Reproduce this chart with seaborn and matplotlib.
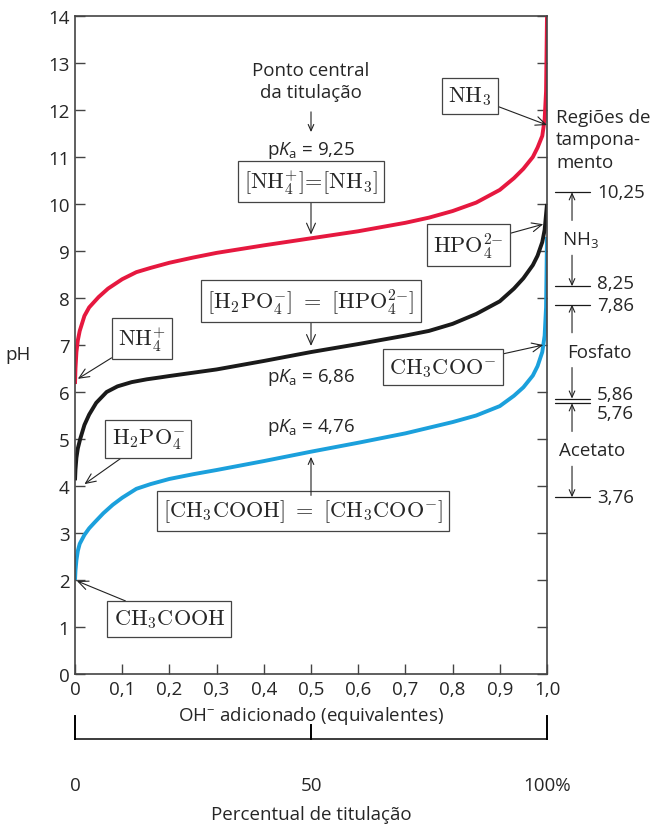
import numpy as np
import pandas as pd
import matplotlib
matplotlib.use("Agg")
import matplotlib.pyplot as plt
import seaborn as sns

# curve values (x = OH- equivalents, y = pH)
nh4_x = [0, 0.001, 0.003, 0.006, 0.01, 0.02, 0.03, 0.05, 0.07, 0.1, 0.13, 0.16, 0.2, 0.25, 0.3,
         0.4, 0.5, 0.6, 0.7, 0.75, 0.8, 0.85, 0.9, 0.93, 0.95, 0.97, 0.98, 0.99, 0.995, 0.998, 1.0]
nh4_ph = [6.17, 6.5, 6.85, 7.1, 7.3, 7.62, 7.8, 8.02, 8.2, 8.4, 8.55, 8.64, 8.75, 8.86, 8.96,
          9.12, 9.27, 9.42, 9.6, 9.71, 9.85, 10.03, 10.3, 10.55, 10.75, 11.0, 11.2, 11.45, 11.8, 12.4, 14.0]

h2po4_x = [0, 0.001, 0.003, 0.006, 0.011, 0.02, 0.03, 0.045, 0.067, 0.09, 0.12, 0.152, 0.18, 0.2, 0.25,
           0.3, 0.4, 0.5, 0.6, 0.7, 0.75, 0.8, 0.85, 0.9, 0.93, 0.95, 0.97, 0.98, 0.99, 0.995, 1.0]
h2po4_ph = [4.12, 4.35, 4.6, 4.8, 5.0, 5.3, 5.52, 5.77, 6.0, 6.12, 6.21, 6.27, 6.31, 6.34, 6.41,
            6.48, 6.66, 6.85, 7.02, 7.2, 7.3, 7.45, 7.66, 7.93, 8.2, 8.42, 8.7, 8.9, 9.19, 9.45, 10.0]

acet_x = [0, 0.001, 0.003, 0.006, 0.01, 0.02, 0.03, 0.042, 0.06, 0.08, 0.1, 0.13, 0.16, 0.2, 0.25, 0.3,
          0.4, 0.5, 0.6, 0.7, 0.75, 0.8, 0.85, 0.9, 0.93, 0.95, 0.97, 0.98, 0.99, 0.995, 0.998, 1.0]
acet_ph = [2.0, 2.2, 2.42, 2.62, 2.77, 2.96, 3.1, 3.23, 3.42, 3.6, 3.75, 3.94, 4.04, 4.15, 4.25, 4.34,
           4.53, 4.73, 4.92, 5.12, 5.24, 5.36, 5.5, 5.7, 5.92, 6.1, 6.35, 6.55, 6.85, 7.2, 7.8, 9.3]

# buffer regions on the right
buffer_names = ["NH$_3$", "Fosfato", "Acetato"]
buffer_pka = [9.25, 6.86, 4.76]
buffer_top = [10.25, 7.86, 5.76]
buffer_bottom = [8.25, 5.86, 3.76]

x_ticks = [0, 0.1, 0.2, 0.3, 0.4, 0.5, 0.6, 0.7, 0.8, 0.9, 1.0]
x_tick_labels = ["0", "0,1", "0,2", "0,3", "0,4", "0,5", "0,6", "0,7", "0,8", "0,9", "1,0"]
pct_ticks = [0, 50, 100]
pct_labels = ["0", "50", "100%"]

RED = "#e6183f"
BLACK = "#1a1a1a"
BLUE = "#1ba0dc"
EDGE = "#444444"
FS = 13.5

sns.set_style("ticks")
plt.rcParams["font.family"] = ["Open Sans", "DejaVu Sans"]
plt.rcParams["mathtext.fontset"] = "custom"
plt.rcParams["mathtext.rm"] = "Open Sans"
plt.rcParams["mathtext.it"] = "Open Sans:italic"

fig = plt.figure(figsize=(6.5, 8.28), dpi=100)
ax = fig.add_axes([75 / 650, 1 - 675 / 828, 472 / 650, 658 / 828])

for xs, ys, c in [(acet_x, acet_ph, BLUE), (h2po4_x, h2po4_ph, BLACK), (nh4_x, nh4_ph, RED)]:
    sns.lineplot(x=xs, y=ys, ax=ax, color=c, lw=2.8, sort=False, estimator=None,
                 solid_capstyle="butt")

ax.set_xlim(0, 1)
ax.set_ylim(0, 14)
ax.set_xticks(x_ticks, x_tick_labels)
ax.set_yticks(range(0, 15))
ax.tick_params(direction="in", length=7, width=1, color=EDGE, right=True, top=False,
               labelsize=FS, pad=4)
for s in ax.spines.values():
    s.set_color(EDGE)
    s.set_linewidth(1.2)
ax.set_xlabel("OH$^{-}$ adicionado (equivalentes)", fontsize=FS, labelpad=5)
fig.text(18 / 650, 1 - 355 / 828, "pH", ha="center", va="center", fontsize=FS)

# boxed labels (serif, like the original)
box = dict(boxstyle="square,pad=0.28", fc="white", ec=EDGE, lw=0.9)
arr = dict(arrowstyle="->,head_length=0.45,head_width=0.2", lw=0.8, color="#222222",
           shrinkA=0, shrinkB=0)
cm = dict(fontsize=16, math_fontfamily="cm", ha="center", va="center", bbox=box)

def label(txt, tip, pos):
    ax.annotate(txt, xy=tip, xytext=pos, arrowprops=arr, annotation_clip=False, **cm)

label(r"$\mathrm{NH_3}$", (1.0, 11.68), (0.837, 12.3))
label(r"$\mathrm{HPO_4^{2{-}}}$", (0.992, 9.57), (0.833, 9.13))
label(r"$\mathrm{CH_3COO^{-}}$", (0.992, 7.0), (0.78, 6.53))
label(r"$\mathrm{NH_4^{+}}$", (0.006, 6.28), (0.142, 7.13))
label(r"$\mathrm{H_2PO_4^{-}}$", (0.02, 4.04), (0.155, 5.0))
label(r"$\mathrm{CH_3COOH}$", (0.004, 1.98), (0.2, 1.17))
label(r"$\mathrm{[NH_4^{+}]\!=\![NH_3]}$", (0.5, 9.35), (0.5, 10.47))
label(r"$\mathrm{[H_2PO_4^{-}]\ =\ [HPO_4^{2{-}}]}$", (0.5, 6.98), (0.5, 7.94))

ax.text(0.483, 3.47, r"$\mathrm{[CH_3COOH]\ =\ [CH_3COO^{-}]}$", **cm)
ax.annotate("", xy=(0.5, 4.62), xytext=(0.5, 3.8), arrowprops=arr)

ax.text(0.5, 12.62, "Ponto central\nda titulação", ha="center", va="center",
        fontsize=FS, linespacing=1.3)
ax.annotate("", xy=(0.5, 11.53), xytext=(0.5, 11.96), arrowprops=arr)
ax.text(0.5, 11.17, r"p$K_\mathrm{a}$ = 9,25", ha="center", va="center", fontsize=FS)
ax.text(0.5, 6.32, r"p$K_\mathrm{a}$ = 6,86", ha="center", va="center", fontsize=FS)
ax.text(0.5, 5.26, r"p$K_\mathrm{a}$ = 4,76", ha="center", va="center", fontsize=FS)

# buffer regions
ax.text(1.019, 11.38, "Regiões de\ntampona-\nmento", ha="left", va="center",
        fontsize=FS, linespacing=1.32, clip_on=False)
name_x = [1.07, 1.112, 1.095]
for i, name in enumerate(buffer_names):
    pk, top, bot = buffer_pka[i], buffer_top[i], buffer_bottom[i]
    for v in (top, bot):
        ax.plot([1.017, 1.091], [v, v], color=BLACK, lw=0.9, clip_on=False)
    ax.annotate("", xy=(1.053, top), xytext=(1.053, pk + 0.4), arrowprops=arr,
                annotation_clip=False)
    ax.annotate("", xy=(1.053, bot), xytext=(1.053, pk - 0.34), arrowprops=arr,
                annotation_clip=False)
    ax.text(name_x[i], pk, name, ha="center", va="center", fontsize=FS, clip_on=False)
    top_off = -0.2 if i == 2 else 0
    bot_off = 0.1 if i == 1 else (0.06 if i == 0 else 0)
    ax.text(1.106, top + top_off, f"{top:.2f}".replace(".", ","), ha="left", va="center",
            fontsize=FS, clip_on=False)
    ax.text(1.106, bot + bot_off, f"{bot:.2f}".replace(".", ","), ha="left", va="center",
            fontsize=FS, clip_on=False)

# percent axis: a baseline with upright marks (ends taller than the middle)
ax2 = fig.add_axes([75 / 650, 1 - 740 / 828, 472 / 650, 23 / 828])
ax2.set_facecolor("none")
for k in ("top", "left", "right"):
    ax2.spines[k].set_visible(False)
ax2.spines["bottom"].set_color(BLACK)
ax2.spines["bottom"].set_linewidth(1.2)
ax2.set_yticks([])
ax2.set_xlim(0, 100)
ax2.set_ylim(0, 1)
mark_h = [1, 0.6, 1]
for xv, hv in zip(pct_ticks, mark_h):
    ax2.plot([xv, xv], [0, hv], color="black", lw=1.4, clip_on=False, zorder=5,
             solid_capstyle="projecting")
ax2.set_xticks(pct_ticks, pct_labels)
ax2.tick_params(axis="x", length=0, labelsize=FS, pad=27)
fig.text(311 / 650, 1 - 815 / 828, "Percentual de titulação", ha="center", va="center",
         fontsize=FS)

fig.savefig("out.png", dpi=100)
